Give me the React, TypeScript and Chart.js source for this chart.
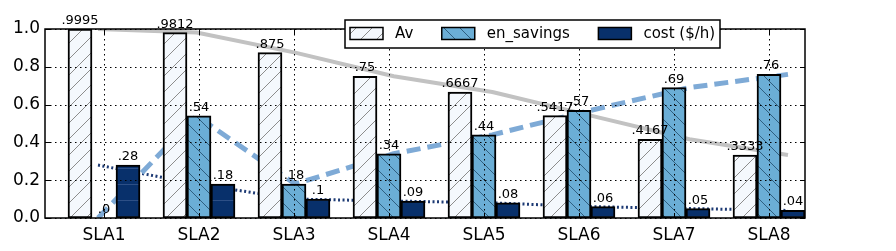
import React, { useEffect, useRef } from "react";
import { Chart, registerables } from "chart.js";

Chart.register(...registerables);

const categories = ["SLA1", "SLA2", "SLA3", "SLA4", "SLA5", "SLA6", "SLA7", "SLA8"];
const avValues = [0.9995, 0.9812, 0.875, 0.75, 0.6667, 0.5417, 0.4167, 0.3333];
const enSavingsValues = [0, 0.54, 0.18, 0.34, 0.44, 0.57, 0.69, 0.76];
const costValues = [0.28, 0.18, 0.1, 0.09, 0.08, 0.06, 0.05, 0.04];
const seriesNames = ["Av", "en_savings", "cost ($/h)"];
const yTickValues = [0, 0.2, 0.4, 0.6, 0.8, 1.0];

// main (bar) x-axis range and the twin range used by the trend lines
const BAR_X_MIN = 0.379;
const BAR_X_MAX = 8.379;
const LINE_X_MIN = 0.4623;
const LINE_X_MAX = 8.1725;

const FONT = '"DejaVu Sans", "Liberation Sans", sans-serif';

function fmt(v: number): string {
  const s = String(v);
  if (s.startsWith("0")) return s.slice(1) || ".0";
  return s;
}

// map a position on the twin line-axis onto the main x-axis
function twinToMain(v: number): number {
  return BAR_X_MIN + ((v - LINE_X_MIN) / (LINE_X_MAX - LINE_X_MIN)) * (BAR_X_MAX - BAR_X_MIN);
}

function makeHatch(bg: string, line: string, kind: string): CanvasPattern | string {
  const s = 16;
  const c = document.createElement("canvas");
  c.width = s;
  c.height = s;
  const g = c.getContext("2d");
  if (!g) return bg;
  g.fillStyle = bg;
  g.fillRect(0, 0, s, s);
  g.strokeStyle = line;
  g.lineWidth = 1;
  g.beginPath();
  if (kind === "/") {
    g.moveTo(0, s); g.lineTo(s, 0);
    g.moveTo(-1, 1); g.lineTo(1, -1);
    g.moveTo(s - 1, s + 1); g.lineTo(s + 1, s - 1);
  } else if (kind === "\\") {
    g.moveTo(0, 0); g.lineTo(s, s);
    g.moveTo(s - 1, -1); g.lineTo(s + 1, 1);
    g.moveTo(-1, s - 1); g.lineTo(1, s + 1);
  } else {
    g.moveTo(0, s / 2 + 0.5); g.lineTo(s, s / 2 + 0.5);
  }
  g.stroke();
  const p = g.createPattern(c, "repeat");
  return p || bg;
}

const decorPlugin = {
  id: "decor",
  afterDatasetsDraw(chart: any) {
    const ctx = chart.ctx;
    const series = [avValues, enSavingsValues, costValues];
    ctx.save();
    ctx.font = `13px ${FONT}`;
    ctx.fillStyle = "#000";
    ctx.textAlign = "center";
    ctx.textBaseline = "alphabetic";
    series.forEach((vals, di) => {
      const meta = chart.getDatasetMeta(di);
      meta.data.forEach((el: any, i: number) => {
        ctx.fillText(fmt(vals[i]), el.x, el.y - 5);
      });
    });
    ctx.restore();
  },
  afterDraw(chart: any) {
    const ctx = chart.ctx;
    const { left, right, top, bottom } = chart.chartArea;
    const xs = chart.scales.x;
    const ys = chart.scales.y;
    ctx.save();
    // dotted grid
    ctx.strokeStyle = "#000";
    ctx.lineWidth = 1;
    ctx.setLineDash([1.5, 3.5]);
    xs.ticks.forEach((t: any) => {
      const px = Math.round(xs.getPixelForValue(t.value)) + 0.5;
      ctx.beginPath();
      ctx.moveTo(px, top);
      ctx.lineTo(px, bottom);
      ctx.stroke();
    });
    ys.ticks.forEach((t: any) => {
      const py = Math.round(ys.getPixelForValue(t.value)) + 0.5;
      ctx.beginPath();
      ctx.moveTo(left, py);
      ctx.lineTo(right, py);
      ctx.stroke();
    });
    ctx.setLineDash([]);
    // inward tick marks
    ctx.lineWidth = 1;
    xs.ticks.forEach((t: any) => {
      const px = Math.round(xs.getPixelForValue(t.value)) + 0.5;
      ctx.beginPath();
      ctx.moveTo(px, bottom);
      ctx.lineTo(px, bottom - 5);
      ctx.moveTo(px, top);
      ctx.lineTo(px, top + 5);
      ctx.stroke();
    });
    ys.ticks.forEach((t: any) => {
      const py = Math.round(ys.getPixelForValue(t.value)) + 0.5;
      ctx.beginPath();
      ctx.moveTo(left, py);
      ctx.lineTo(left + 5, py);
      ctx.moveTo(right, py);
      ctx.lineTo(right - 5, py);
      ctx.stroke();
    });
    // frame
    ctx.lineWidth = 1.5;
    ctx.strokeRect(left, top, right - left, bottom - top);

    // legend
    const boxL = 345, boxT = 20, boxR = 720, boxB = 48;
    ctx.fillStyle = "#fff";
    ctx.fillRect(boxL, boxT, boxR - boxL, boxB - boxT);
    ctx.lineWidth = 1.5;
    ctx.strokeStyle = "#000";
    ctx.strokeRect(boxL, boxT, boxR - boxL, boxB - boxT);
    ctx.font = `15px ${FONT}`;
    ctx.textAlign = "left";
    ctx.textBaseline = "middle";
    let x = 350;
    const cy = 33.5;
    chart.data.datasets.forEach((ds: any) => {
      if (ds.type !== "bar") return;
      ctx.fillStyle = ds.backgroundColor;
      ctx.fillRect(x, cy - 6, 33, 12);
      ctx.lineWidth = 1.5;
      ctx.strokeStyle = "#000";
      ctx.strokeRect(x, cy - 6, 33, 12);
      ctx.fillStyle = "#000";
      ctx.fillText(ds.label, x + 45, cy + 1);
      x += 45 + ctx.measureText(ds.label).width + 28.5;
    });
    ctx.restore();
  },
};

export default function App() {
  const ref = useRef<HTMLCanvasElement | null>(null);

  useEffect(() => {
    const canvas = ref.current;
    if (!canvas) return;
    const avFill = makeHatch("#f4f8fd", "#8c8c8c", "/");
    const enFill = makeHatch("#6baed6", "#2f5f80", "\\");
    const costFill = makeHatch("#08306b", "#2d4f86", "-");

    const bar = (label: string, vals: number[], fill: any) => ({
      type: "bar",
      label,
      data: vals.map((v, i) => ({ x: i + 1, y: v })),
      backgroundColor: fill,
      borderColor: "#000",
      borderWidth: 2,
      borderSkipped: false,
      order: 1,
      barThickness: 24,
    });
    const line = (label: string, vals: number[], color: string, width: number, dash: number[]) => ({
      type: "line",
      label,
      data: vals.map((v, i) => ({ x: twinToMain(i + 1), y: v })),
      borderColor: color,
      backgroundColor: color,
      borderWidth: width,
      borderDash: dash,
      borderCapStyle: "butt",
      borderJoinStyle: "round",
      pointRadius: 0,
      pointHoverRadius: 0,
      fill: false,
      tension: 0,
      order: 2,
    });

    const chart = new Chart(canvas, {
      type: "bar",
      data: {
        datasets: [
          bar(seriesNames[0], avValues, avFill),
          bar(seriesNames[1], enSavingsValues, enFill),
          bar(seriesNames[2], costValues, costFill),
          line(seriesNames[0], avValues, "#c2c2c2", 4, []),
          line(seriesNames[1], enSavingsValues, "#7eaad6", 5, [14, 7]),
          line(seriesNames[2], costValues, "#1d3a74", 3, [2, 2.5]),
        ] as any,
      },
      options: {
        responsive: false,
        animation: false,
        events: [],
        layout: { padding: { top: 29, right: 91, left: 0, bottom: 0 } },
        plugins: {
          legend: { display: false },
          tooltip: { enabled: false },
        },
        scales: {
          x: {
            type: "linear",
            position: "bottom",
            offset: false,
            min: BAR_X_MIN,
            max: BAR_X_MAX,
            grid: { display: false, offset: false, drawTicks: false },
            border: { display: false },
            afterBuildTicks: (s: any) => {
              s.ticks = categories.map((_, i) => ({ value: i + 1 }));
            },
            ticks: {
              callback: (v: any) => categories[Math.round(Number(v)) - 1] ?? "",
              font: { family: FONT, size: 17 },
              color: "#000",
              padding: 7,
              maxRotation: 0,
              autoSkip: false,
            },
            afterFit: (s: any) => {
              s.height = 33;
            },
          },
          y: {
            type: "linear",
            position: "left",
            min: 0,
            max: 1,
            grid: { display: false, drawTicks: false },
            border: { display: false },
            afterBuildTicks: (s: any) => {
              s.ticks = yTickValues.map((v) => ({ value: v }));
            },
            ticks: {
              callback: (v: any) => Number(v).toFixed(1),
              font: { family: FONT, size: 17 },
              color: "#000",
              padding: 5,
            },
            afterFit: (s: any) => {
              s.width = 45;
            },
          },
        },
      } as any,
      plugins: [decorPlugin],
    });
    return () => chart.destroy();
  }, []);

  return (
    <div style={{ position: "absolute", left: 0, top: 0, width: 896, height: 251, background: "#fff" }}>
      <canvas ref={ref} width={896} height={251} style={{ width: 896, height: 251, display: "block" }} />
    </div>
  );
}
